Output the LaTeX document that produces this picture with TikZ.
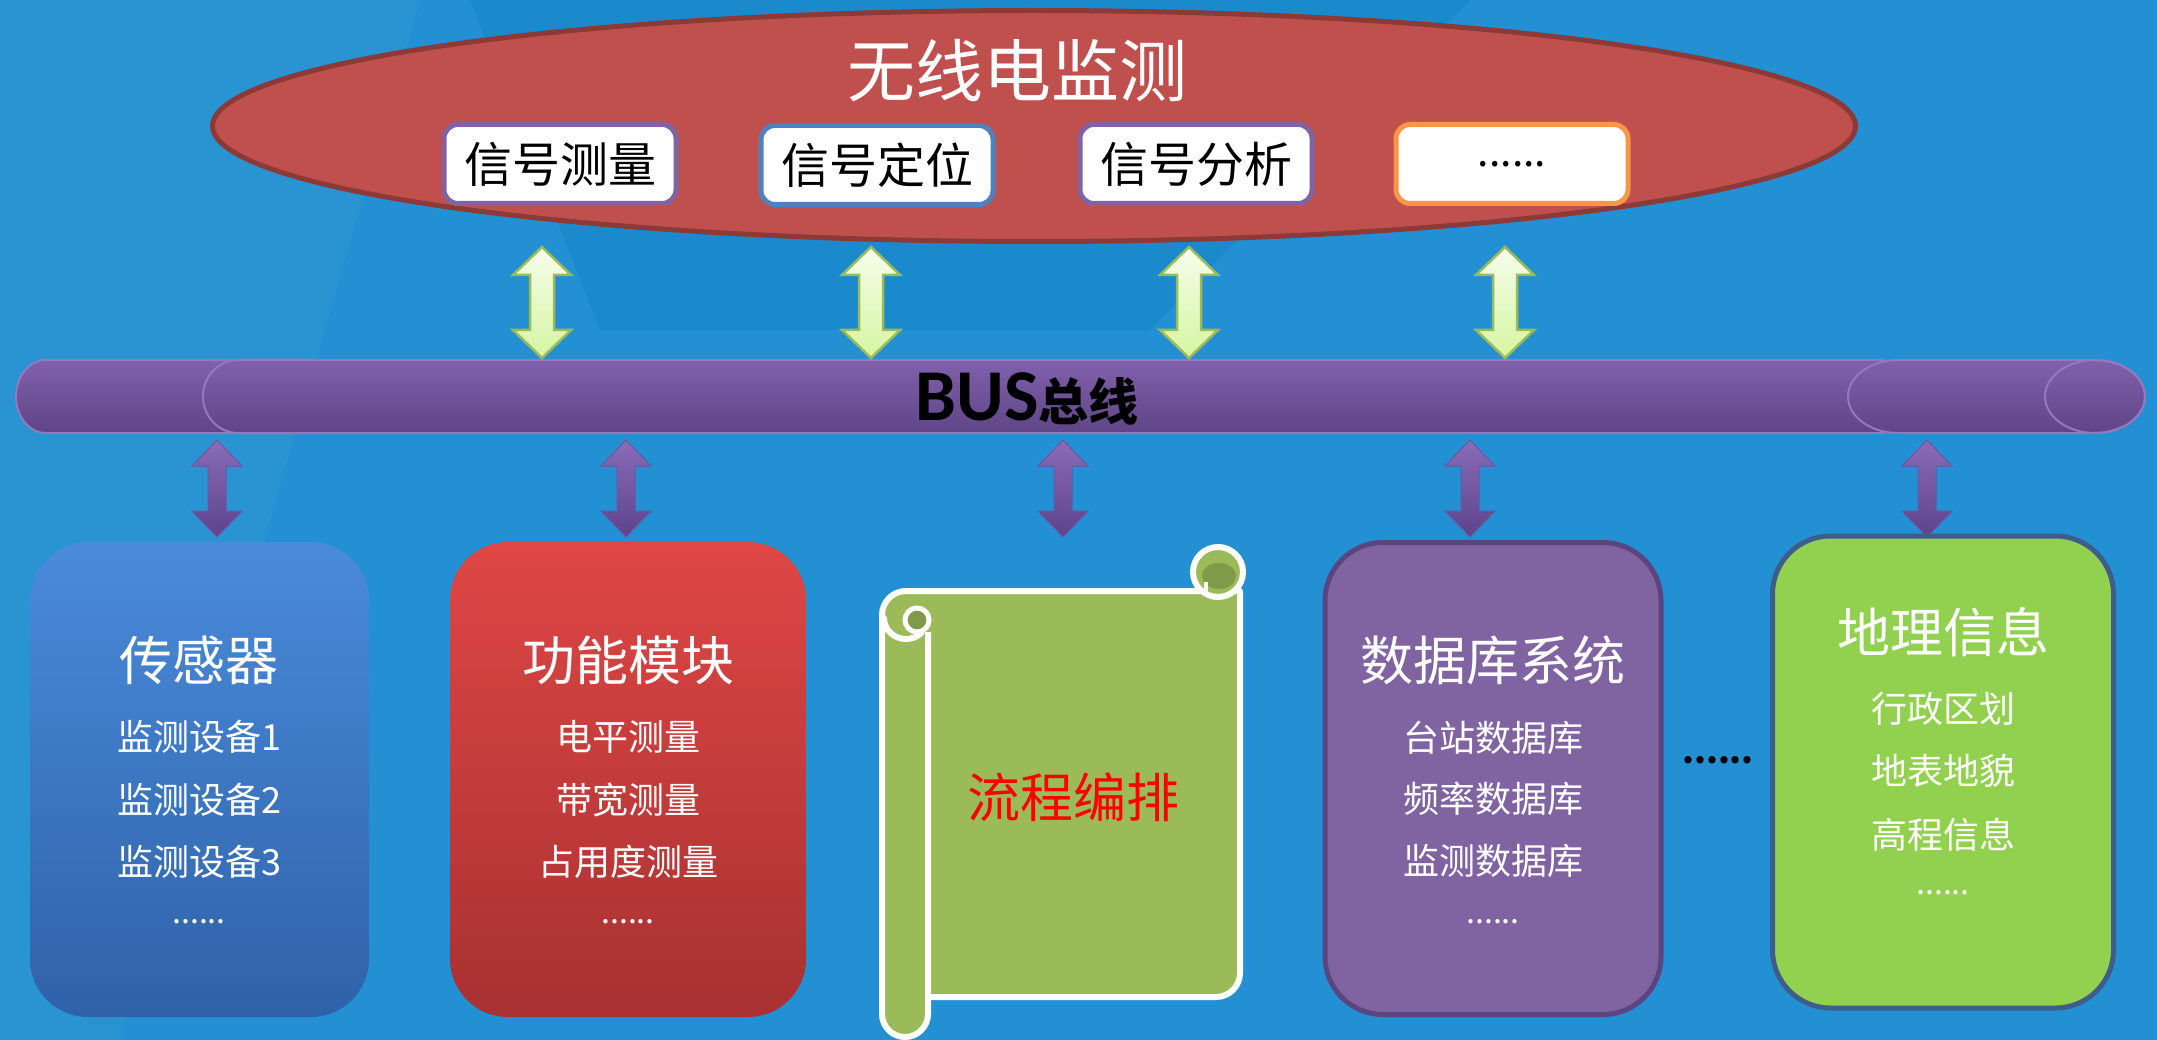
\documentclass[tikz,border=0pt]{standalone}
\usepackage{fontspec}
\setmainfont{Noto Sans CJK SC}
\newfontfamily\cjk{Noto Sans CJK SC}
\newfontfamily\calb{Carlito}
\usetikzlibrary{calc,shapes.geometric}
\definecolor{bgblue}{HTML}{2290D2}
\definecolor{bgdark}{HTML}{0B7DC4}
\definecolor{ellfill}{HTML}{C0504D}
\definecolor{ellline}{HTML}{8C3A37}
\definecolor{subpurple}{HTML}{8064A2}
\definecolor{subblue}{HTML}{4F81BD}
\definecolor{suborange}{HTML}{F79646}
\definecolor{garrowtop}{HTML}{F5FDEB}
\definecolor{garrowbot}{HTML}{D6F5A2}
\definecolor{garrowline}{HTML}{9BBB59}
\definecolor{parrowtop}{HTML}{8A6CB8}
\definecolor{parrowbot}{HTML}{5C438C}
\definecolor{parrowline}{HTML}{6F55A0}
\definecolor{bustop}{HTML}{8060AB}
\definecolor{busbot}{HTML}{5F4587}
\definecolor{busline}{HTML}{9479C0}
\definecolor{bluetop}{HTML}{4A8BDB}
\definecolor{bluebot}{HTML}{2F62A8}
\definecolor{redtop}{HTML}{DE4745}
\definecolor{redbot}{HTML}{A83131}
\definecolor{scrollg}{HTML}{9BBB59}
\definecolor{curlg}{HTML}{7F9A48}
\definecolor{dbfill}{HTML}{8064A2}
\definecolor{dbline}{HTML}{5B4581}
\definecolor{geofill}{HTML}{92D050}
\definecolor{geoline}{HTML}{3F5D8A}
\newcommand\fsz[1]{\fontsize{#1}{#1}\selectfont}
\newcommand\fatarrow[6]{%
  \path[#1] let \p1=(#2), \p2=(#3) in
    (\x1,\y1) -- (\x1+#5pt,\y1-#6pt) -- (\x1+#4pt,\y1-#6pt) -- (\x1+#4pt,\y2+#6pt)
    -- (\x1+#5pt,\y2+#6pt) -- (\x1,\y2) -- (\x1-#5pt,\y2+#6pt) -- (\x1-#4pt,\y2+#6pt)
    -- (\x1-#4pt,\y1-#6pt) -- (\x1-#5pt,\y1-#6pt) -- cycle;}
\tikzset{
  subbox/.style={draw, line width=5pt, fill=white, rounded corners=14pt, minimum width=232pt,
    minimum height=79pt, inner sep=0pt, font=\cjk\fsz{48}, text=black},
  bigbox/.style={minimum width=339pt, minimum height=475pt, rounded corners=58pt, inner sep=0pt},
  ttl/.style={text=white, font=\cjk\fsz{53}, inner sep=0pt},
  itm/.style={text=white, font=\cjk\fsz{36}, inner sep=0pt},
  dts/.style={text=white, font=\cjk\fsz{32}, inner sep=0pt},
  garrow/.style={draw=garrowline, line width=2.5pt, top color=garrowtop, bottom color=garrowbot},
  parrow/.style={draw=parrowline, line width=1pt, top color=parrowtop, bottom color=parrowbot},
  busfill/.style={draw=busline, line width=2pt, top color=bustop, bottom color=busbot},
  scrl/.style={draw=white, line width=6pt, fill=scrollg, line join=round},
}
\begin{document}
\begin{tikzpicture}[x=1pt,y=-1pt]
\useasboundingbox (0,0) rectangle (2157,1040);
% background
\fill[bgblue] (0,0) rectangle (2157,1040);
\fill[bgdark, opacity=0.3] (470,0) -- (1470,0) -- (1150,330) -- (600,330) -- cycle;
\fill[white, opacity=0.04] (0,0) -- (420,0) -- (120,1040) -- (0,1040) -- cycle;

% top ellipse and sub boxes
\node[ellipse, draw=ellline, line width=5pt, fill=ellfill, minimum width=1643pt,
      minimum height=231pt, inner sep=0pt] (radio) at (1034,126) {};
\node[text=white, font=\cjk\fsz{68}, inner sep=0pt] (title) at (1017,71) {无线电监测};
\node[subbox, draw=subpurple] (s1) at (560,164) {信号测量};
\node[subbox, draw=subblue] (s2) at (877,165) {信号定位};
\node[subbox, draw=subpurple] (s3) at (1196,164) {信号分析};
\node[subbox, draw=suborange, font=\cjk\fsz{41}] (s4) at (1512,164) {......};

% bus
\path[busfill] (46,360) arc[start angle=270,end angle=90,x radius=30,y radius=36.5] -- (320,433) -- (320,360) -- cycle;
\path[busfill] (238,360) arc[start angle=270,end angle=90,x radius=35,y radius=36.5] -- (1883,433) -- (1883,360) -- cycle;
\path[busfill] (1898,360) arc[start angle=270,end angle=90,x radius=50,y radius=36.5] -- (2095,433)
   arc[start angle=90,end angle=-90,x radius=50,y radius=36.5] -- cycle;
\draw[busline, line width=2pt] (2095,396.5) ellipse [x radius=50, y radius=36.5];
\node[inner sep=0pt, text=black] (bus) at (1027,399) {\calb\bfseries\fsz{73}BUS\cjk\bfseries\fsz{50}总线};

% green arrows
\coordinate (g1t) at (542,247); \coordinate (g1b) at (542,358);
\coordinate (g2t) at (871,247); \coordinate (g2b) at (871,358);
\coordinate (g3t) at (1189,247); \coordinate (g3b) at (1189,358);
\coordinate (g4t) at (1505,247); \coordinate (g4b) at (1505,358);
\fatarrow{garrow}{g1t}{g1b}{12}{29}{28}
\fatarrow{garrow}{g2t}{g2b}{12}{29}{28}
\fatarrow{garrow}{g3t}{g3b}{12}{29}{28}
\fatarrow{garrow}{g4t}{g4b}{12}{29}{28}

% purple arrows
\coordinate (p1t) at (217,440); \coordinate (p1b) at (217,537);
\coordinate (p2t) at (626,440); \coordinate (p2b) at (626,537);
\coordinate (p3t) at (1063,440); \coordinate (p3b) at (1063,537);
\coordinate (p4t) at (1470,440); \coordinate (p4b) at (1470,537);
\coordinate (p5t) at (1927,440); \coordinate (p5b) at (1927,537);
\fatarrow{parrow}{p1t}{p1b}{9}{25}{26}
\fatarrow{parrow}{p2t}{p2b}{9}{25}{26}
\fatarrow{parrow}{p3t}{p3b}{9}{25}{26}
\fatarrow{parrow}{p4t}{p4b}{9}{25}{26}
\fatarrow{parrow}{p5t}{p5b}{9}{25}{26}

% box 1: sensors
\node[bigbox, top color=bluetop, bottom color=bluebot] (sensor) at (199.5,779.5) {};
\node[ttl] (sensorT) at (199,660) {传感器};
\node[itm] (sensor1) at (199,737) {监测设备1};
\node[itm] (sensor2) at (199,800) {监测设备2};
\node[itm] (sensor3) at (199,862) {监测设备3};
\node[dts] (sensor4) at (199,922) {......};

% box 2: function modules
\node[bigbox, minimum width=356pt, top color=redtop, bottom color=redbot] (func) at (628,779.5) {};
\node[ttl] (funcT) at (628,660) {功能模块};
\node[itm] (func1) at (628,737) {电平测量};
\node[itm] (func2) at (628,800) {带宽测量};
\node[itm] (func3) at (628,862) {占用度测量};
\node[dts] (func4) at (628,922) {......};

% scroll: flow orchestration
\path[scrl] (882,997) -- (882,615) arc[start angle=180,end angle=270,radius=24] -- (1240,591)
   -- (1240,973) arc[start angle=0,end angle=90,radius=24] -- cycle;
\path[fill=scrollg] (882,615) -- (882,1014) arc[start angle=180,end angle=0,radius=23] -- (928,615) -- cycle;
\draw[white, line width=6pt, line join=round] (882,615) -- (882,1014) arc[start angle=180,end angle=0,radius=23] -- (928,632);
\draw[white, line width=6pt, line cap=round] (884,618) arc[start angle=180,end angle=45,x radius=22,y radius=21];
\path[draw=white, line width=5pt, fill=curlg] (917,620) circle (12);
\path[scrl] (1218,572) circle (25);
\fill[curlg] (1219,576) ellipse [x radius=17, y radius=13];
\draw[white, line width=4pt] (1206,582) -- (1206,594);
\node[text=red, font=\cjk\fsz{53}, inner sep=0pt] (flow) at (1073,797) {流程编排};

% box 4: database
\node[bigbox, minimum width=336pt, minimum height=472pt, draw=dbline, line width=5pt, fill=dbfill] (db) at (1493,778.5) {};
\node[ttl] (dbT) at (1493,660) {数据库系统};
\node[itm] (db1) at (1493,738) {台站数据库};
\node[itm] (db2) at (1493,799) {频率数据库};
\node[itm] (db3) at (1493,861) {监测数据库};
\node[dts] (db4) at (1493,922) {......};

% middle dots
\node[text=black, font=\cjk\bfseries\fsz{34}, inner sep=0pt] (more) at (1718,760) {......};

% box 5: geo info
\node[bigbox, minimum width=341pt, minimum height=472pt, draw=geoline, line width=5pt, fill=geofill] (geo) at (1943,772) {};
\node[ttl] (geoT) at (1943,632) {地理信息};
\node[itm] (geo1) at (1943,709) {行政区划};
\node[itm] (geo2) at (1943,771) {地表地貌};
\node[itm] (geo3) at (1943,835) {高程信息};
\node[dts] (geo4) at (1943,893) {......};
\end{tikzpicture}
\end{document}
